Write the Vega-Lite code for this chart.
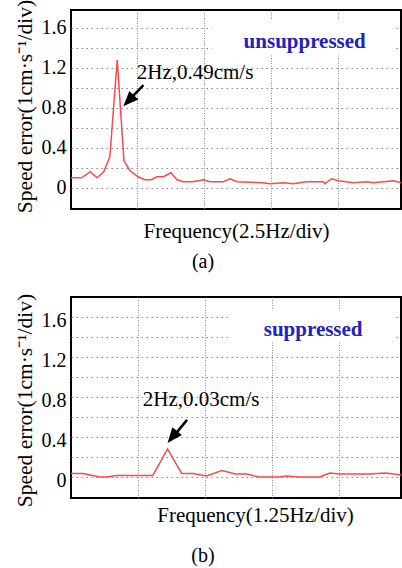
{
  "$schema": "https://vega.github.io/schema/vega-lite/v6.json",
  "background": "white",
  "autosize": {"type": "none"},
  "padding": {"left": 71, "top": 10, "right": 331, "bottom": 558},
  "config": {
    "font": "Liberation Serif",
    "view": {"stroke": "black", "strokeWidth": 2},
    "axis": {
      "labelFont": "Liberation Serif",
      "titleFont": "Liberation Serif",
      "titleFontWeight": "normal",
      "titleColor": "black",
      "labelColor": "black",
      "ticks": false,
      "domain": false,
      "gridColor": "#888888",
      "gridOpacity": 1,
      "gridWidth": 1,
      "zindex": 0
    },
    "title": {"font": "Liberation Serif", "fontWeight": "normal", "fontSize": 20, "color": "black"}
  },
  "datasets": {
    "lineA": [
      {"x": 0.022, "y": 0.10}, {"x": 0.18, "y": 0.10}, {"x": 0.31, "y": 0.16}, {"x": 0.41, "y": 0.10},
      {"x": 0.51, "y": 0.16}, {"x": 0.60, "y": 0.31}, {"x": 0.71, "y": 1.28}, {"x": 0.81, "y": 0.27},
      {"x": 0.90, "y": 0.17}, {"x": 1.02, "y": 0.11}, {"x": 1.12, "y": 0.08}, {"x": 1.22, "y": 0.08},
      {"x": 1.30, "y": 0.11}, {"x": 1.40, "y": 0.11}, {"x": 1.51, "y": 0.15}, {"x": 1.60, "y": 0.08},
      {"x": 1.69, "y": 0.06}, {"x": 1.84, "y": 0.06}, {"x": 1.99, "y": 0.08}, {"x": 2.09, "y": 0.06},
      {"x": 2.29, "y": 0.06}, {"x": 2.39, "y": 0.09}, {"x": 2.49, "y": 0.06}, {"x": 2.88, "y": 0.05},
      {"x": 2.98, "y": 0.04}, {"x": 3.18, "y": 0.05}, {"x": 3.33, "y": 0.04}, {"x": 3.53, "y": 0.06},
      {"x": 3.78, "y": 0.06}, {"x": 3.80, "y": 0.04}, {"x": 3.90, "y": 0.09}, {"x": 4.00, "y": 0.07},
      {"x": 4.22, "y": 0.05}, {"x": 4.42, "y": 0.06}, {"x": 4.52, "y": 0.05}, {"x": 4.67, "y": 0.06},
      {"x": 4.82, "y": 0.07}, {"x": 4.933, "y": 0.05}
    ],
    "lineB": [
      {"x": 0.0, "y": 0.04}, {"x": 0.18, "y": 0.04}, {"x": 0.43, "y": 0.005}, {"x": 0.53, "y": 0.005},
      {"x": 0.68, "y": 0.02}, {"x": 1.22, "y": 0.02}, {"x": 1.44, "y": 0.285}, {"x": 1.65, "y": 0.04},
      {"x": 1.82, "y": 0.04}, {"x": 2.02, "y": 0.015}, {"x": 2.25, "y": 0.07}, {"x": 2.45, "y": 0.035},
      {"x": 2.62, "y": 0.035}, {"x": 2.80, "y": 0.005}, {"x": 3.11, "y": 0.005}, {"x": 3.21, "y": 0.015},
      {"x": 3.41, "y": 0.005}, {"x": 3.71, "y": 0.005}, {"x": 3.86, "y": 0.045}, {"x": 4.01, "y": 0.035},
      {"x": 4.16, "y": 0.035}, {"x": 4.46, "y": 0.035}, {"x": 4.68, "y": 0.045}, {"x": 4.81, "y": 0.035},
      {"x": 4.92, "y": 0.025}
    ],
    "boxA": [{"x": 2.12, "x2": 4.86, "y": 1.68, "y2": 1.33}],
    "boxB": [{"x": 2.34, "x2": 4.83, "y": 1.67, "y2": 1.35}],
    "arrowA": [{"x": 1.10, "y": 1.027, "x2": 0.872, "y2": 0.868, "tx": 0.80, "ty": 0.817}],
    "arrowB": [{"x": 1.73, "y": 0.575, "x2": 1.504, "y2": 0.39, "tx": 1.44, "ty": 0.345}],
    "noteA": [{"x": 1.0, "y": 1.084, "label": "2Hz,0.49cm/s"}],
    "noteB": [{"x": 1.07, "y": 0.718, "label": "2Hz,0.03cm/s"}],
    "tagA": [{"x": 3.50, "y": 1.397, "label": "unsuppressed"}],
    "tagB": [{"x": 3.61, "y": 1.408, "label": "suppressed"}]
  },
  "bounds": "flush",
  "spacing": 88,
  "vconcat": [
    {
      "width": 330,
      "height": 199,
      "title": {"text": "(a)", "orient": "bottom", "anchor": "middle", "frame": "group", "dx": -33, "offset": 11},
      "encoding": {
        "x": {
          "field": "x", "type": "quantitative",
          "scale": {"domain": [0.022, 4.933], "nice": false, "zero": false},
          "axis": {"title": "Frequency(2.5Hz/div)", "titleFontSize": 21, "titlePadding": 11, "labels": false, "values": [1, 2, 3, 4], "gridDash": [1, 1.5]}
        },
        "y": {
          "field": "y", "type": "quantitative",
          "scale": {"domain": [-0.213, 1.78], "nice": false, "zero": false},
          "axis": {
            "title": "Speed error(1cm·s⁻¹/div)", "titleFontSize": 21.5, "titlePadding": 5, "titleY": 96,
            "values": [0, 0.2, 0.4, 0.6, 0.8, 1, 1.2, 1.4, 1.6],
            "labelExpr": "datum.value == 0 ? '0' : (round(datum.value * 10) % 4 == 0 ? format(datum.value, '.1f') : '')",
            "labelFontSize": 20, "labelPadding": 5, "labelOverlap": false, "labelFlush": false,
            "gridDash": [1.5, 3.5]
          }
        }
      },
      "layer": [
        {"data": {"name": "boxA"}, "mark": {"type": "rect", "fill": "white", "strokeWidth": 0}, "encoding": {"x2": {"field": "x2"}, "y2": {"field": "y2"}}},
        {"data": {"name": "lineA"}, "mark": {"type": "line", "color": "#ff4848", "strokeWidth": 1.5, "clip": true}},
        {"data": {"name": "arrowA"}, "mark": {"type": "rule", "color": "black", "strokeWidth": 2.5}, "encoding": {"x2": {"field": "x2"}, "y2": {"field": "y2"}}},
        {"data": {"name": "arrowA"}, "mark": {"type": "point", "shape": "M0,0L0.45,1.1L-0.45,1.1Z", "filled": true, "color": "black", "opacity": 1, "size": 760, "angle": 224}, "encoding": {"x": {"field": "tx", "type": "quantitative"}, "y": {"field": "ty", "type": "quantitative"}}},
        {"data": {"name": "noteA"}, "mark": {"type": "text", "align": "left", "baseline": "alphabetic", "fontSize": 21, "color": "black"}, "encoding": {"text": {"field": "label"}}},
        {"data": {"name": "tagA"}, "mark": {"type": "text", "align": "center", "baseline": "alphabetic", "fontSize": 21, "fontWeight": "bold", "color": "#2222bb"}, "encoding": {"text": {"field": "label"}}}
      ]
    },
    {
      "width": 330,
      "height": 201,
      "title": {"text": "(b)", "orient": "bottom", "anchor": "middle", "frame": "group", "dx": -33, "offset": 21},
      "encoding": {
        "x": {
          "field": "x", "type": "quantitative",
          "scale": {"domain": [0, 4.92], "nice": false, "zero": false},
          "axis": {"title": "Frequency(1.25Hz/div)", "titleFontSize": 21, "titlePadding": 6, "titleX": 184, "labels": false, "values": [1, 2, 3, 4], "gridDash": [1, 1.5]}
        },
        "y": {
          "field": "y", "type": "quantitative",
          "scale": {"domain": [-0.205, 1.802], "nice": false, "zero": false},
          "axis": {
            "title": "Speed error(1cm·s⁻¹/div)", "titleFontSize": 21.5, "titlePadding": 5, "titleY": 103,
            "values": [0, 0.2, 0.4, 0.6, 0.8, 1, 1.2, 1.4, 1.6],
            "labelExpr": "datum.value == 0 ? '0' : (round(datum.value * 10) % 4 == 0 ? format(datum.value, '.1f') : '')",
            "labelFontSize": 20, "labelPadding": 5, "labelOffset": 3, "labelOverlap": false, "labelFlush": false,
            "gridDash": [1.5, 3.5]
          }
        }
      },
      "layer": [
        {"data": {"name": "boxB"}, "mark": {"type": "rect", "fill": "white", "strokeWidth": 0}, "encoding": {"x2": {"field": "x2"}, "y2": {"field": "y2"}}},
        {"data": {"name": "lineB"}, "mark": {"type": "line", "color": "#ff4848", "strokeWidth": 1.5, "clip": true}},
        {"data": {"name": "arrowB"}, "mark": {"type": "rule", "color": "black", "strokeWidth": 2.5}, "encoding": {"x2": {"field": "x2"}, "y2": {"field": "y2"}}},
        {"data": {"name": "arrowB"}, "mark": {"type": "point", "shape": "M0,0L0.45,1.1L-0.45,1.1Z", "filled": true, "color": "black", "opacity": 1, "size": 760, "angle": 219}, "encoding": {"x": {"field": "tx", "type": "quantitative"}, "y": {"field": "ty", "type": "quantitative"}}},
        {"data": {"name": "noteB"}, "mark": {"type": "text", "align": "left", "baseline": "alphabetic", "fontSize": 21, "color": "black"}, "encoding": {"text": {"field": "label"}}},
        {"data": {"name": "tagB"}, "mark": {"type": "text", "align": "center", "baseline": "alphabetic", "fontSize": 21, "fontWeight": "bold", "color": "#2222bb"}, "encoding": {"text": {"field": "label"}}}
      ]
    }
  ]
}
